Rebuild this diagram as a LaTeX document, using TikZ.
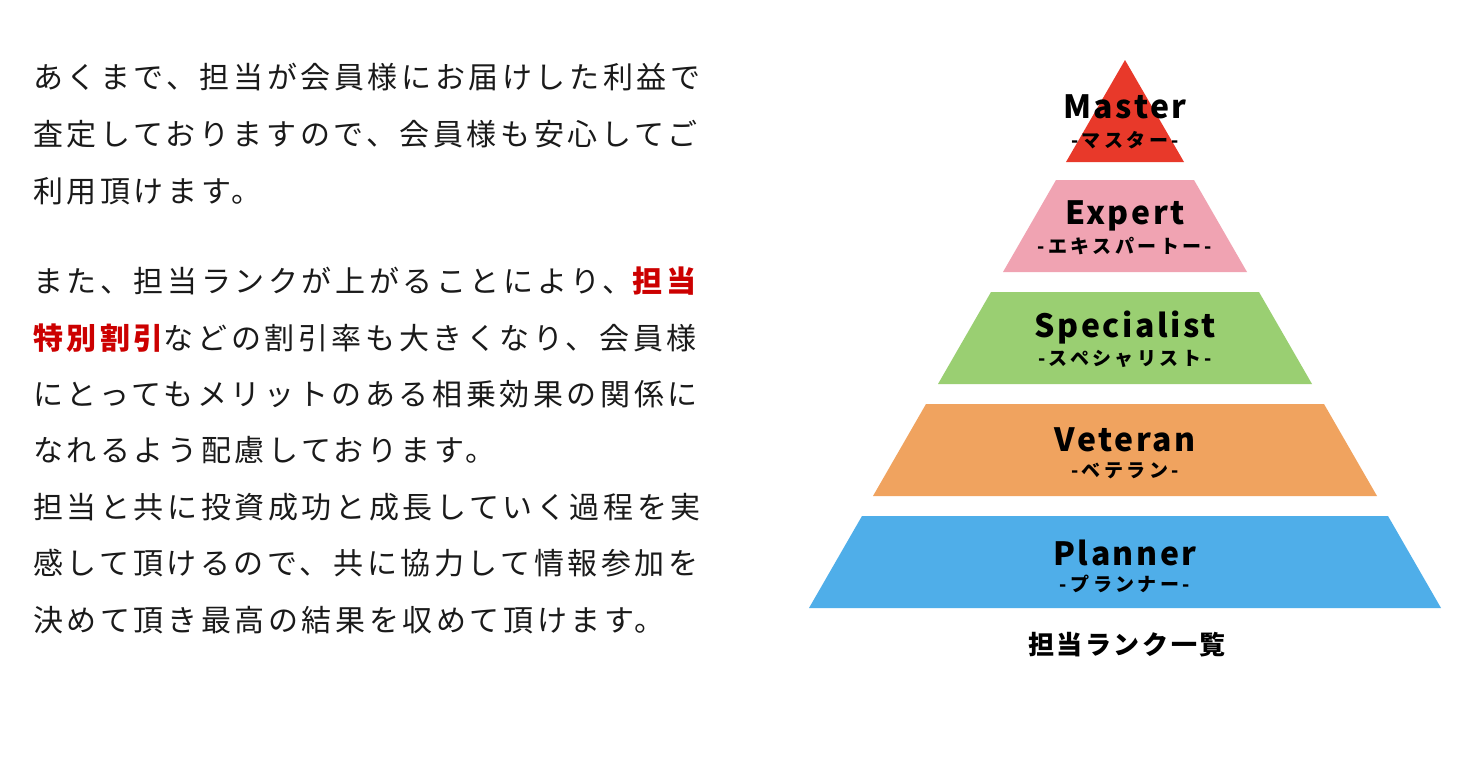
\documentclass[tikz,border=0pt]{standalone}
\usepackage{fontspec}
\setmainfont{Noto Sans CJK JP}
\newfontfamily\bodyfont{Noto Sans CJK JP}[LetterSpace=12]
\newfontfamily\labelfont{Noto Sans CJK JP}[LetterSpace=8]
\newfontfamily\subfont{Noto Sans CJK JP}[LetterSpace=18]
\newfontfamily\capfont{Noto Sans CJK JP}[LetterSpace=10]
\definecolor{cRed}{HTML}{E8392A}
\definecolor{cPink}{HTML}{F0A3B2}
\definecolor{cGreen}{HTML}{9ACF72}
\definecolor{cOrange}{HTML}{F0A35F}
\definecolor{cBlue}{HTML}{4FAEE9}
\definecolor{cHi}{HTML}{CC0000}
\definecolor{cText}{HTML}{1A1A1A}
\newcommand{\hi}[1]{{\bfseries\color{cHi}#1}}
\begin{document}
\begin{tikzpicture}[x=1pt,y=-1pt,
  bodyline/.style={anchor=west,inner sep=0pt,text=cText,font=\bodyfont\fontsize{30}{30}\selectfont},
  rankname/.style={inner sep=0pt,font=\labelfont\bfseries\fontsize{32}{32}\selectfont},
  ranksub/.style={inner sep=0pt,font=\subfont\bfseries\fontsize{19}{19}\selectfont},
  caption/.style={inner sep=0pt,font=\capfont\bfseries\fontsize{26}{26}\selectfont}]
\useasboundingbox[fill=white] (0,0) rectangle (1464,772);
% body text
\node[bodyline] (l1) at (33,77) {あくまで、担当が会員様にお届けした利益で};
\node[bodyline] (l2) at (33,134) {査定しておりますので、会員様も安心してご};
\node[bodyline] (l3) at (33,191) {利用頂けます。};
\node[bodyline] (l4) at (33,281) {また、担当ランクが上がることにより、\hi{担当}};
\node[bodyline] (l5) at (33,338) {\hi{特別割引}などの割引率も大きくなり、会員様};
\node[bodyline] (l6) at (33,394) {にとってもメリットのある相乗効果の関係に};
\node[bodyline] (l7) at (33,450) {なれるよう配慮しております。};
\node[bodyline] (l8) at (33,507) {担当と共に投資成功と成長していく過程を実};
\node[bodyline] (l9) at (33,563) {感して頂けるので、共に協力して情報参加を};
\node[bodyline] (l10) at (33,620) {決めて頂き最高の結果を収めて頂けます。};
% pyramid
\fill[cRed] (1125,60) -- (1184,162) -- (1066,162) -- cycle;
\fill[cPink] (1056,180) -- (1194,180) -- (1247,272) -- (1003,272) -- cycle;
\fill[cGreen] (991,292) -- (1259,292) -- (1312,384) -- (938,384) -- cycle;
\fill[cOrange] (926,404) -- (1324,404) -- (1377,496) -- (873,496) -- cycle;
\fill[cBlue] (862,516) -- (1388,516) -- (1441,608) -- (809,608) -- cycle;
% labels
\node[rankname] (m) at (1125,107) {Master};
\node[ranksub] (ms) at (1125,140) {-マスター-};
\node[rankname] (e) at (1125,216) {Expert};
\node[ranksub] (es) at (1125,246) {-エキスパートー-};
\node[rankname] (s) at (1125,328) {Specialist};
\node[ranksub] (ss) at (1125,359) {-スペシャリスト-};
\node[rankname] (v) at (1125,440) {Veteran};
\node[ranksub] (vs) at (1125,471) {-ベテラン-};
\node[rankname] (p) at (1125,553) {Planner};
\node[ranksub] (ps) at (1125,584) {-プランナー-};
\node[caption] (cap) at (1127,645) {担当ランク一覧};
\end{tikzpicture}
\end{document}
